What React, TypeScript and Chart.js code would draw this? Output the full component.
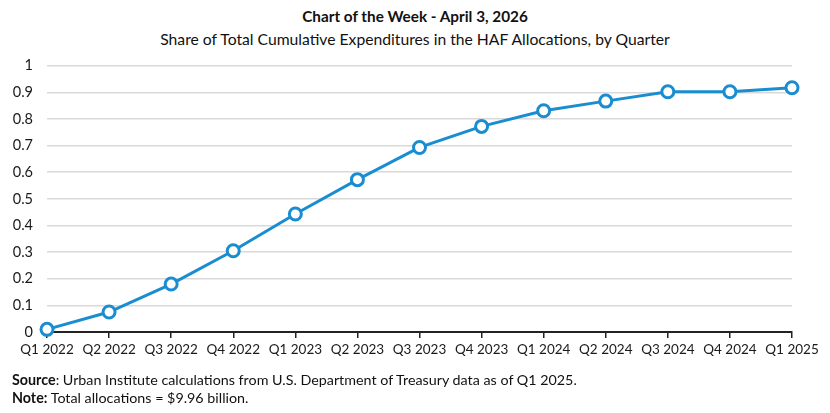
import React, { useEffect, useRef } from "react";
import { Chart, registerables } from "chart.js";

Chart.register(...registerables);

const quarters = [
  "Q1 2022", "Q2 2022", "Q3 2022", "Q4 2022",
  "Q1 2023", "Q2 2023", "Q3 2023", "Q4 2023",
  "Q1 2024", "Q2 2024", "Q3 2024", "Q4 2024",
  "Q1 2025",
];
const shareValues = [0.01, 0.075, 0.18, 0.305, 0.443, 0.572, 0.693, 0.772, 0.831, 0.867, 0.902, 0.902, 0.917];
const yMin = 0;
const yMax = 1;
const yStep = 0.1;

const titleText = "Chart of the Week - April 3, 2026";
const subtitleText = "Share of Total Cumulative Expenditures in the HAF Allocations, by Quarter";

const BLUE = "#1a8dd0";
const FONT = "Lato, 'Open Sans', sans-serif";

export default function App() {
  const canvasRef = useRef<HTMLCanvasElement | null>(null);

  useEffect(() => {
    if (!canvasRef.current) return;
    const chart = new Chart(canvasRef.current, {
      type: "line",
      data: {
        labels: quarters,
        datasets: [
          {
            data: shareValues,
            borderColor: BLUE,
            borderWidth: 3,
            backgroundColor: "#ffffff",
            pointBackgroundColor: "#ffffff",
            pointBorderColor: BLUE,
            pointBorderWidth: 3,
            pointRadius: 6,
            tension: 0,
            clip: false,
          } as any,
        ],
      },
      options: {
        animation: false,
        responsive: false,
        maintainAspectRatio: false,
        layout: { padding: { top: 18, right: 38, bottom: 0, left: 0 } },
        plugins: {
          legend: { display: false },
          tooltip: { enabled: false },
          title: { display: false },
        },
        scales: {
          x: {
            offset: false,
            grid: {
              drawOnChartArea: false,
              drawTicks: true,
              tickLength: 6,
              color: "#222222",
              lineWidth: 1.5,
            },
            border: { display: true, color: "#222222", width: 2 },
            ticks: {
              color: "#1a1a1a",
              font: { family: FONT, size: 13.5 },
              padding: 4,
              maxRotation: 0,
              autoSkip: false,
            },
            afterFit: (scale: any) => {
              scale.height = 43;
            },
          },
          y: {
            min: yMin,
            max: yMax,
            grid: {
              drawTicks: false,
              color: "#d9d9d9",
              lineWidth: 1.5,
            },
            border: { display: false },
            ticks: {
              stepSize: yStep,
              color: "#1a1a1a",
              font: { family: FONT, size: 14.5 },
              padding: 14,
              callback: (v: any) => String(Number(Number(v).toFixed(1))),
            },
            afterFit: (scale: any) => {
              scale.width = 47;
            },
          },
        },
      },
    });
    return () => chart.destroy();
  }, []);

  return (
    <div
      style={{
        position: "absolute",
        left: 0,
        top: 0,
        width: 830,
        height: 413,
        background: "#ffffff",
        fontFamily: FONT,
        color: "#111111",
        overflow: "hidden",
      }}
    >
      <div
        style={{
          position: "absolute",
          left: 0,
          top: 6,
          width: 830,
          textAlign: "center",
          fontWeight: 700,
          fontSize: 15.3,
          lineHeight: "20px",
        }}
      >
        {titleText}
      </div>
      <div
        style={{
          position: "absolute",
          left: 0,
          top: 29,
          width: 830,
          textAlign: "center",
          fontSize: 15.7,
          lineHeight: "21px",
        }}
      >
        {subtitleText}
      </div>
      <canvas
        ref={canvasRef}
        width={830}
        height={332}
        style={{ position: "absolute", left: 0, top: 43, width: 830, height: 332 }}
      />
      <div
        style={{
          position: "absolute",
          left: 12,
          top: 371,
          fontSize: 14.3,
          lineHeight: "18px",
        }}
      >
        <div>
          <b>Source</b>: Urban Institute calculations from U.S. Department of Treasury data as of Q1 2025.
        </div>
        <div>
          <b>Note:</b> Total allocations = $9.96 billion.
        </div>
      </div>
    </div>
  );
}
